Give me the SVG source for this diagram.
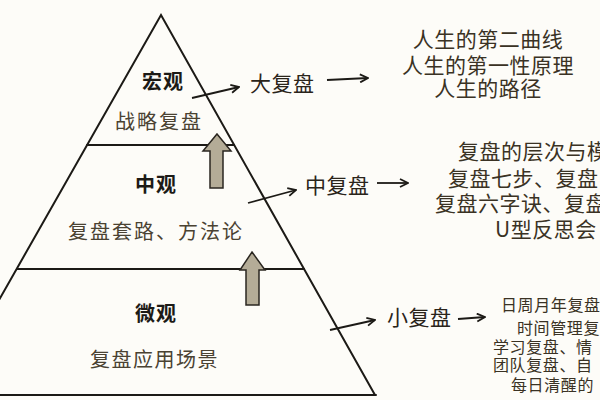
<svg xmlns="http://www.w3.org/2000/svg" width="600" height="400" viewBox="0 0 600 400">
  <defs>
    <style>
      .ln { stroke: #1c1a16; stroke-width: 2; fill: none; stroke-linecap: round; }
      .con { stroke: #1c1a16; stroke-width: 1.8; fill: none; marker-end: url(#ah); }
      .up { fill: #b4ac97; stroke: #2a2620; stroke-width: 1.5; stroke-linejoin: miter; }
      .t { font-family: "Noto Sans CJK SC", "Noto Sans", sans-serif; fill: #2a241a; }
      .lvl { font-size: 20px; font-weight: bold; letter-spacing: 1px; fill: #1c1a16; }
      .sub { font-size: 20px; letter-spacing: 2px; fill: #4a4232; }
      .lab { font-size: 21px; letter-spacing: 0.5px; fill: #2a241a; }
      .rt { font-size: 21px; letter-spacing: 0.5px; fill: #3a3224; }
      .rs { font-size: 16px; letter-spacing: 0.6px; fill: #3a3224; }
    </style>
    <marker id="ah" viewBox="0 0 10 10" refX="9" refY="5" markerWidth="10" markerHeight="10" markerUnits="userSpaceOnUse" orient="auto">
      <path d="M1,1 L9,5 L1,9" fill="none" stroke="#1c1a16" stroke-width="1.8" stroke-linejoin="miter"/>
    </marker>
  </defs>
  <rect width="600" height="400" fill="#fdfcf8"/>

  <g id="pyramid">
    <path class="ln" d="M-1,300 L161,15 L375,395"/>
    <line class="ln" x1="0" y1="395" x2="376" y2="395"/>
    <line class="ln" x1="87" y1="145" x2="234" y2="145"/>
    <line class="ln" x1="17" y1="269" x2="304" y2="269"/>
  </g>

  <g id="macro">
    <text class="t lvl" x="142" y="89">宏观</text>
    <text class="t sub" x="115" y="129">战略复盘</text>
  </g>
  <g id="meso">
    <text class="t lvl" x="135" y="192">中观</text>
    <text class="t sub" x="68" y="239">复盘套路、方法论</text>
  </g>
  <g id="micro">
    <text class="t lvl" x="135" y="321">微观</text>
    <text class="t sub" x="90" y="367" style="letter-spacing:1.5px">复盘应用场景</text>
  </g>

  <g id="up-arrows">
    <polygon class="up" points="217,134 231,151 223,151 223,188 210,188 210,151 203,151"/>
    <polygon class="up" points="252,252 265,270 259,270 259,305 246,305 246,270 240,270"/>
  </g>

  <g id="connectors">
    <line class="con" x1="192" y1="98" x2="239" y2="87"/>
    <line class="con" x1="327" y1="80" x2="368" y2="78"/>
    <line class="con" x1="248" y1="203" x2="296" y2="190"/>
    <line class="con" x1="377" y1="183" x2="408" y2="183"/>
    <line class="con" x1="330" y1="330" x2="375" y2="320"/>
    <line class="con" x1="458" y1="319" x2="485" y2="317"/>
  </g>

  <g id="big-review">
    <text class="t lab" x="250" y="91">大复盘</text>
  </g>
  <g id="mid-review">
    <text class="t lab" x="305" y="193">中复盘</text>
  </g>
  <g id="small-review">
    <text class="t lab" x="387" y="325">小复盘</text>
  </g>

  <g id="big-details">
    <text class="t rt" x="488" y="47" text-anchor="middle">人生的第二曲线</text>
    <text class="t rt" x="488" y="73" text-anchor="middle">人生的第一性原理</text>
    <text class="t rt" x="488" y="96" text-anchor="middle">人生的路径</text>
  </g>
  <g id="mid-details">
    <text class="t rt" x="458" y="159">复盘的层次与模</text>
    <text class="t rt" x="448" y="186">复盘七步、复盘</text>
    <text class="t rt" x="435" y="211">复盘六字诀、复盘</text>
    <text class="t rt" x="495" y="237">U型反思会</text>
  </g>
  <g id="small-details">
    <text class="t rs" x="501" y="311">日周月年复盘</text>
    <text class="t rs" x="517" y="334">时间管理复</text>
    <text class="t rs" x="493" y="353">学习复盘、情</text>
    <text class="t rs" x="493" y="371">团队复盘、自</text>
    <text class="t rs" x="511" y="391">每日清醒的</text>
  </g>
</svg>
